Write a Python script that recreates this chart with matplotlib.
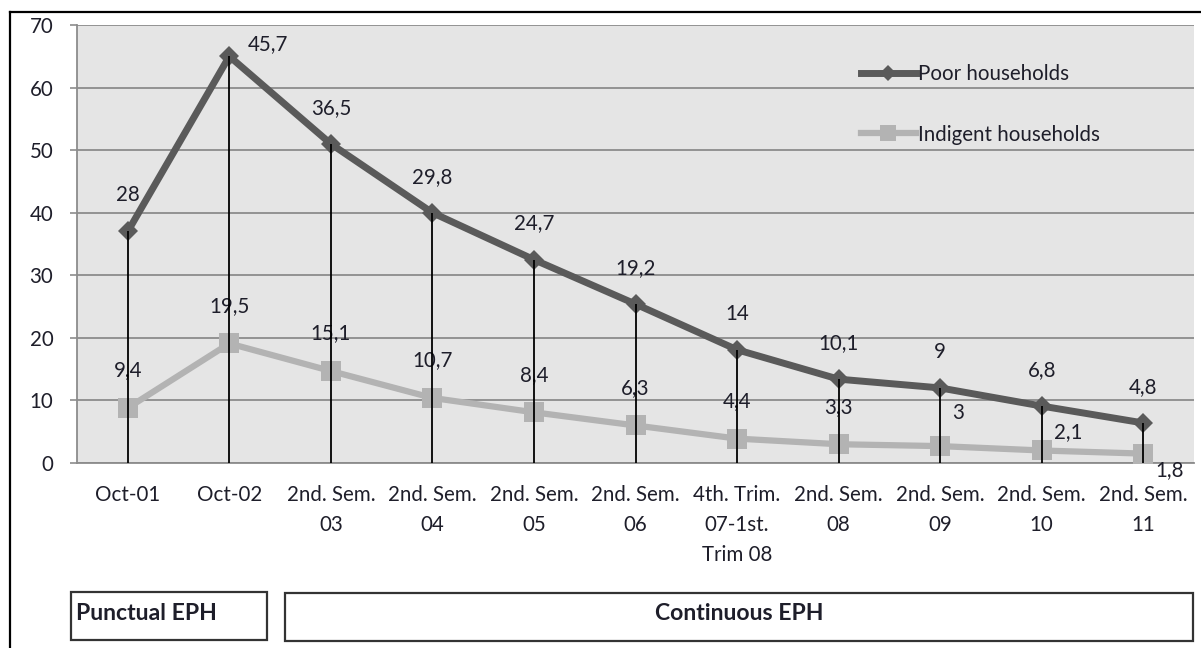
import matplotlib.pyplot as plt
from matplotlib.lines import Line2D
from matplotlib.patches import Rectangle
import numpy as np

# categorias do eixo x
CATEGORIES = ["Oct-01", "Oct-02", "2nd. Sem.\n03", "2nd. Sem.\n04", "2nd. Sem.\n05",
              "2nd. Sem.\n06", "4th. Trim.\n07-1st.\nTrim 08", "2nd. Sem.\n08",
              "2nd. Sem.\n09", "2nd. Sem.\n10", "2nd. Sem.\n11"]

# valores desenhados e os rótulos escritos ao lado dos pontos
POOR_PLOT = [37, 65, 51, 40, 32.5, 25.4, 18.1, 13.4, 12, 9.1, 6.4]
POOR_LABELS = ["28", "45,7", "36,5", "29,8", "24,7", "19,2", "14", "10,1", "9", "6,8", "4,8"]
INDIG_PLOT = [8.8, 19.1, 14.7, 10.4, 8.1, 6.0, 3.9, 3.0, 2.7, 2.0, 1.5]
INDIG_LABELS = ["9,4", "19,5", "15,1", "10,7", "8,4", "6,3", "4,4", "3,3", "3", "2,1", "1,8"]

Y_TICKS = [0, 10, 20, 30, 40, 50, 60, 70]

TEXT = "#1e1e2a"
DARK = "#5a5a5a"
LIGHT = "#b3b3b3"
FS = 14.8

plt.rcParams["font.family"] = ["Lato", "DejaVu Sans"]

fig = plt.figure(figsize=(12.01, 6.48), dpi=100)
W, H = 1201, 648
ax = fig.add_axes([77 / W, 1 - 463 / H, (1194 - 77) / W, (463 - 25) / H])
ax.set_facecolor("#e5e5e5")

x = np.arange(len(CATEGORIES))

ax.plot(x, INDIG_PLOT, color=LIGHT, linewidth=4.5, marker="s", markersize=15,
        markeredgewidth=0, label="Indigent households", zorder=3)
ax.plot(x, POOR_PLOT, color=DARK, linewidth=5, marker="D", markersize=10,
        markeredgewidth=0, label="Poor households", zorder=4)
ax.vlines(x, 0, POOR_PLOT, color="black", linewidth=1.3, zorder=5)

# rótulos dos pontos
for i, (v, lab) in enumerate(zip(POOR_PLOT, POOR_LABELS)):
    if i == 1:
        ax.annotate(lab, (i, v), xytext=(13, 9), textcoords="offset points",
                    ha="left", va="center", fontsize=FS, color=TEXT)
    else:
        ax.annotate(lab, (i, v), xytext=(0, 26), textcoords="offset points",
                    ha="center", va="center", fontsize=FS, color=TEXT)
for i, (v, lab) in enumerate(zip(INDIG_PLOT, INDIG_LABELS)):
    if i >= 8:
        dy = {8: 24, 9: 13, 10: -12}[i]
        ax.annotate(lab, (i, v), xytext=(9, dy), textcoords="offset points",
                    ha="left", va="center", fontsize=FS, color=TEXT)
    else:
        ax.annotate(lab, (i, v), xytext=(0, 27), textcoords="offset points",
                    ha="center", va="center", fontsize=FS, color=TEXT)

ax.set_xlim(-0.5, len(CATEGORIES) - 0.5)
ax.set_ylim(0, 70)
ax.set_yticks(Y_TICKS)
ax.set_xticks(x)
ax.set_xticklabels(CATEGORIES, fontsize=FS, color=TEXT, linespacing=1.62)
ax.tick_params(axis="x", length=0, pad=16)
ax.tick_params(axis="y", length=5, width=1.2, color="#8c8c8c", labelsize=FS,
               labelcolor=TEXT, pad=12)
ax.grid(axis="y", color="#8c8c8c", linewidth=1.3)
ax.set_axisbelow(True)
for s in ["top", "right"]:
    ax.spines[s].set_visible(False)
ax.spines["left"].set_color("#8c8c8c")
ax.spines["left"].set_linewidth(1.3)
ax.spines["bottom"].set_color("#8c8c8c")
ax.spines["bottom"].set_linewidth(1.3)

handles = [Line2D([], [], color=DARK, linewidth=5, marker="D", markersize=8, markeredgewidth=0),
           Line2D([], [], color=LIGHT, linewidth=4.5, marker="s", markersize=11, markeredgewidth=0)]
ax.legend(handles, ["Poor households", "Indigent households"], loc="upper left",
          bbox_to_anchor=((842 - 77) / (1194 - 77), 1 - (46 - 25) / 438),
          frameon=False, fontsize=FS, labelspacing=1.95, handlelength=2.7,
          handletextpad=0.1, labelcolor=TEXT)

# caixas inferiores
def box(x0, x1, y0, y1):
    fig.patches.append(Rectangle((x0 / W, 1 - y1 / H), (x1 - x0) / W, (y1 - y0) / H,
                                 transform=fig.transFigure, fill=False,
                                 edgecolor="#333333", linewidth=1.6))

box(71, 267, 592, 640)
box(285, 1193, 593, 641)
fig.text(76 / W, 1 - 613 / H, "Punctual EPH", fontsize=16.6, fontweight="bold",
         color=TEXT, ha="left", va="center")
fig.text(739 / W, 1 - 614 / H, "Continuous EPH", fontsize=16.6, fontweight="bold",
         color=TEXT, ha="center", va="center")

# moldura externa
fig.add_artist(Line2D([10 / W, 10 / W], [0, 1 - 12 / H], color="black", linewidth=1.6,
                      transform=fig.transFigure))
fig.add_artist(Line2D([10 / W, 1], [1 - 12 / H, 1 - 12 / H], color="black", linewidth=1.6,
                      transform=fig.transFigure))

fig.savefig("out.png", dpi=100, facecolor="white")
